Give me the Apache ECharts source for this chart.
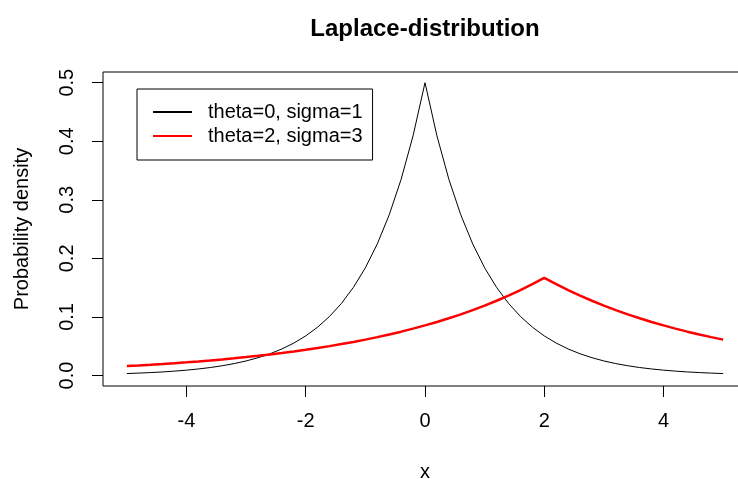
<!DOCTYPE html>
<html>
<head>
<meta charset="utf-8">
<script src="https://cdn.jsdelivr.net/npm/echarts@6/dist/echarts.min.js"></script>
<style>
html,body{margin:0;padding:0;background:#fff;}
#chart{width:738px;height:479px;}
</style>
</head>
<body>
<div id="chart"></div>
<script>
// x grid of the plotted curves
const xs = [-5.0,-4.8,-4.6,-4.4,-4.2,-4.0,-3.8,-3.6,-3.4,-3.2,-3.0,-2.8,-2.6,-2.4,-2.2,-2.0,-1.8,-1.6,-1.4,-1.2,-1.0,-0.8,-0.6,-0.4,-0.2,
  0.0,0.2,0.4,0.6,0.8,1.0,1.2,1.4,1.6,1.8,2.0,2.2,2.4,2.6,2.8,3.0,3.2,3.4,3.6,3.8,4.0,4.2,4.4,4.6,4.8,5.0];
// theta=0, sigma=1
const blackVals = [0.00337,0.00412,0.00503,0.00614,0.00750,0.00916,0.01119,0.01366,0.01669,0.02038,0.02489,0.03041,0.03714,0.04536,0.05540,0.06767,0.08265,0.10095,0.12330,0.15060,0.18394,0.22466,0.27441,0.33516,0.40937,
  0.50000,
  0.40937,0.33516,0.27441,0.22466,0.18394,0.15060,0.12330,0.10095,0.08265,0.06767,0.05540,0.04536,0.03714,0.03041,0.02489,0.02038,0.01669,0.01366,0.01119,0.00916,0.00750,0.00614,0.00503,0.00412,0.00337];
// theta=2, sigma=3
const redVals = [0.01616,0.01728,0.01847,0.01974,0.02110,0.02256,0.02411,0.02577,0.02755,0.02945,0.03148,0.03365,0.03597,0.03845,0.04110,0.04393,0.04696,0.05020,0.05366,0.05736,0.06131,0.06554,0.07006,0.07489,0.08005,
  0.08557,0.09147,0.09777,0.10451,0.11172,0.11942,0.12766,0.13646,0.14586,0.15592,0.16667,0.15592,0.14586,0.13646,0.12766,0.11942,0.11172,0.10451,0.09777,0.09147,0.08557,0.08005,0.07489,0.07006,0.06554,0.06131];
const seriesNames = ['theta=0, sigma=1', 'theta=2, sigma=3'];
const xTicks = [-4, -2, 0, 2, 4];
const yTicks = [0, 0.1, 0.2, 0.3, 0.4, 0.5];
const titleText = 'Laplace-distribution';
const xName = 'x';
const yName = 'Probability density';

const FONT = 'Liberation Sans, Arial, sans-serif';
const chart = echarts.init(document.getElementById('chart'), null, {renderer: 'canvas'});
const pairs = vals => xs.map((x, i) => [x, vals[i]]);

chart.setOption({
  animation: false,
  backgroundColor: '#ffffff',
  title: {
    text: titleText,
    left: 420,
    top: 12,
    textAlign: 'center',
    textStyle: {fontFamily: FONT, fontSize: 24, fontWeight: 'bold', color: '#000'}
  },
  legend: {
    orient: 'vertical',
    left: 137,
    top: 89,
    padding: [13, 10, 14, 16],
    borderColor: '#000',
    borderWidth: 1,
    borderRadius: 0,
    itemGap: 4,
    itemWidth: 39,
    itemHeight: 2,
    icon: 'rect',
    data: seriesNames,
    textStyle: {fontFamily: FONT, fontSize: 20, color: '#000', padding: [0, 0, 0, 11]}
  },
  grid: {
    left: 103, top: 72, width: 644, height: 314,
    outerBoundsMode: 'none', containLabel: false,
    show: true, borderColor: '#000', borderWidth: 1, backgroundColor: 'transparent'
  },
  xAxis: {
    type: 'value', min: -5.4, max: 5.4,
    name: xName, nameLocation: 'middle', nameGap: 76,
    nameTextStyle: {fontFamily: FONT, fontSize: 20, color: '#000'},
    axisLine: {show: false, onZero: false},
    splitLine: {show: false},
    axisTick: {show: true, length: 11, customValues: xTicks, lineStyle: {color: '#000', width: 1}},
    axisLabel: {customValues: xTicks, margin: 25, fontFamily: FONT, fontSize: 20, color: '#000'}
  },
  yAxis: {
    type: 'value', min: -0.0179, max: 0.5183,
    name: yName, nameLocation: 'middle', nameGap: 71,
    nameTextStyle: {fontFamily: FONT, fontSize: 20, color: '#000'},
    axisLine: {show: false, onZero: false},
    splitLine: {show: false},
    axisTick: {show: true, length: 11, customValues: yTicks, lineStyle: {color: '#000', width: 1}},
    axisLabel: {customValues: yTicks, rotate: 90, margin: 26, fontFamily: FONT, fontSize: 20, color: '#000',
      formatter: v => v.toFixed(1)}
  },
  series: [
    {name: seriesNames[0], type: 'line', data: pairs(blackVals), showSymbol: false, symbol: 'none',
     lineStyle: {color: '#000000', width: 1}, itemStyle: {color: '#000000'}},
    {name: seriesNames[1], type: 'line', data: pairs(redVals), showSymbol: false, symbol: 'none',
     lineStyle: {color: '#ff0000', width: 2.5}, itemStyle: {color: '#ff0000'}}
  ]
});
</script>
</body>
</html>
